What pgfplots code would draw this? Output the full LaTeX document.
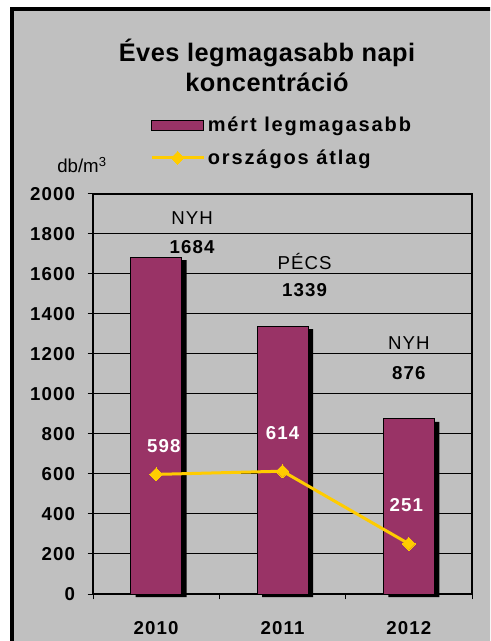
\documentclass[border=0pt]{standalone}
\usepackage{pgfplots}
\pgfplotsset{compat=1.18}
\usepackage{fontspec}
\setmainfont{Liberation Sans}
\newfontfamily\xl[LetterSpace=6]{Liberation Sans}
\newfontfamily\xll[LetterSpace=9.5]{Liberation Sans}
\newfontfamily\xt[LetterSpace=2]{Liberation Sans}
\definecolor{bg}{HTML}{C0C0C0}
\definecolor{plum}{HTML}{993366}
\definecolor{gold}{HTML}{FFCC00}
\pgfplotsset{
  linelegend/.style={legend image code/.code={\draw[mark repeat=2,mark phase=2,##1] plot coordinates {(0pt,0pt) (19.5pt,0pt) (39pt,0pt)};}},
  barlegend/.style={legend image code/.code={\draw[fill=plum,draw=black,line width=0.75pt] (0pt,-3.75pt) rectangle (39pt,3.75pt);}}
}
\begin{document}
\begin{tikzpicture}
\useasboundingbox (0,0) rectangle (367.5pt,480.75pt);
\begin{scope}
\clip (0,0) rectangle (367.5pt,480.75pt);
\draw[line width=3pt, fill=bg] (9pt,-20pt) rectangle (390pt,474pt);
\end{scope}
\node[font=\xt\fontsize{19}{22.5}\selectfont\bfseries, align=center] at (200.25pt,431.5pt) {Éves legmagasabb napi\\koncentráció};
\node[font=\fontsize{14}{16}\selectfont, anchor=base west, inner sep=0pt] at (42.75pt,351pt) {db/m\textsuperscript{3}};
\begin{axis}[at={(69.75pt,35.25pt)}, anchor=south west, scale only axis,
  width=284.25pt, height=300pt,
  xmin=0.5, xmax=3.5, ymin=0, ymax=2000,
  axis line style={line width=2pt},
  ymajorgrids, grid style={black, line width=0.75pt},
  ytick={0,200,...,2000}, ytick pos=left, xtick pos=bottom,
  tick align=outside, major tick length=4pt,
  tick style={black, line width=0.75pt},
  xtick={0.5,1.5,2.5,3.5}, xticklabels={},
  extra x ticks={1,2,3}, extra x tick labels={2010,2011,2012},
  extra x tick style={major tick length=0pt, grid=none},
  /pgf/number format/1000 sep={},
  /pgf/number format/assume math mode=true,
  yticklabel style={font=\xl\fontsize{14}{16}\selectfont\bfseries, xshift=-6pt},
  xticklabel style={font=\xl\fontsize{14}{16}\selectfont\bfseries, yshift=-17pt},
  legend style={at={(rel axis cs:0.150,1.2)}, anchor=north west, draw=none, fill=none,
    inner sep=0pt, row sep=8pt, font=\xll\fontsize{15}{18}\selectfont\bfseries,
    cells={anchor=west}, nodes={xshift=1.5pt}},
  clip=false,
]
\addplot[ybar, bar width=38.25pt, fill=black, draw=none, forget plot, bar shift=3.75pt, yshift=-2.25pt]
  coordinates {(1,1684) (2,1339) (3,876)};
\addplot[ybar, bar width=38.25pt, fill=plum, draw=black, line width=0.75pt, barlegend]
  coordinates {(1,1684) (2,1339) (3,876)};
\addlegendentry{mért legmagasabb}
\addplot[gold, line width=2.25pt, mark=square*, mark size=3.4pt,
  mark options={rotate=45, fill=gold, draw=gold, line width=0pt}, linelegend]
  coordinates {(1,598) (2,614) (3,251)};
\addlegendentry{országos átlag}
\begin{scope}[every node/.style={font=\xl\fontsize{14}{16}\selectfont}]
\node at (axis cs:1.285,1880) {NYH};
\node at (axis cs:1.285,1735) {\bfseries 1684};
\node at (axis cs:2.175,1660) {PÉCS};
\node at (axis cs:2.175,1520) {\bfseries 1339};
\node at (axis cs:3.0,1255) {NYH};
\node at (axis cs:3.0,1105) {\bfseries 876};
\node[text=white] at (axis cs:1.06,740) {\bfseries 598};
\node[text=white] at (axis cs:2.0,805) {\bfseries 614};
\node[text=white] at (axis cs:2.98,445) {\bfseries 251};
\end{scope}
\end{axis}
\end{tikzpicture}
\end{document}
